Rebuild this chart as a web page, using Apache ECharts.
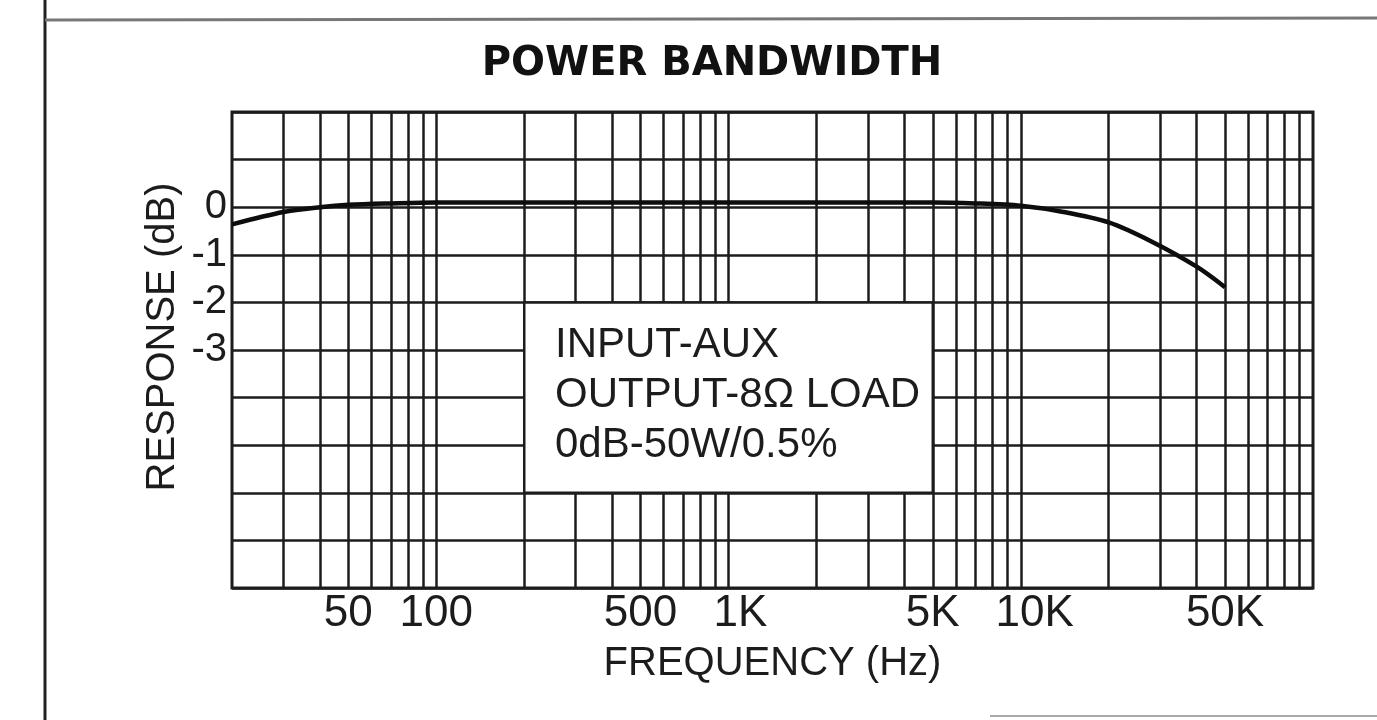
<!DOCTYPE html>
<html><head><meta charset="utf-8">
<script src="https://cdn.jsdelivr.net/npm/echarts@6/dist/echarts.min.js"></script>
<style>html,body{margin:0;padding:0;background:#fff}#c{width:1377px;height:720px}</style>
</head><body><div id="c"></div>
<script>
// ---- data ----
const freqs = [20, 30, 40, 50, 70, 100, 200, 500, 1000, 2000, 5000, 7000, 10000, 14000, 20000, 28000, 40000, 50000];
const response = [-0.36, -0.1, 0.0, 0.05, 0.08, 0.1, 0.1, 0.1, 0.1, 0.1, 0.1, 0.08, 0.03, -0.1, -0.32, -0.72, -1.25, -1.68];
const gridFreqs = [30, 40, 50, 60, 70, 80, 90, 100, 200, 300, 400, 500, 600, 700, 800, 900, 1000,
  2000, 3000, 4000, 5000, 6000, 7000, 8000, 9000, 10000, 20000, 30000, 40000, 50000, 60000, 70000, 80000, 90000];
const freqTickValues = [50, 100, 500, 1000, 5000, 10000, 50000];
const freqTickLabels = ['50', '100', '500', '1K', '5K', '10K', '50K'];
const dbTickValues = [0, -1, -2, -3];
const dbTickLabels = ['0', '-1', '-2', '-3'];
const noteBox = { freqFrom: 200, freqTo: 5000, dbTop: -2, dbBottom: -6 };
const noteLines = ['INPUT-AUX', 'OUTPUT-8Ω LOAD', '0dB-50W/0.5%'];
const titleText = 'POWER BANDWIDTH';
const xName = 'FREQUENCY (Hz)';
const yName = 'RESPONSE (dB)';

// ---- chart ----
const FONT = '"Liberation Sans", Arial, sans-serif';
const INK = '#1c1c1c';
const labelShift = { '1K': 12, '10K': 14 };
const chart = echarts.init(document.getElementById('c'), null, { renderer: 'canvas' });
chart.setOption({
  animation: false,
  backgroundColor: '#fff',
  grid: { left: 232, top: 112, width: 1081, height: 476, show: true, borderColor: INK, borderWidth: 3, backgroundColor: 'transparent' },
  xAxis: {
    type: 'log', min: 20, max: 100000, logBase: 10,
    axisLine: { show: false }, axisTick: { show: false }, axisLabel: { show: false }, splitLine: { show: false },
    name: xName, nameLocation: 'middle', nameGap: 56,
    nameTextStyle: { fontFamily: FONT, fontSize: 40, color: INK }
  },
  yAxis: {
    type: 'value', min: -8, max: 2, interval: 1,
    axisLine: { show: false }, axisTick: { show: false },
    axisLabel: {
      margin: 5, fontFamily: FONT, fontSize: 40, color: INK,
      formatter: v => { const i = dbTickValues.indexOf(v); return i >= 0 ? dbTickLabels[i] : ''; }
    },
    splitLine: { show: true, lineStyle: { color: INK, width: 2.5 } }
  },
  graphic: [
    { type: 'line', shape: { x1: 45, y1: 0, x2: 45, y2: 720 }, style: { stroke: '#222', lineWidth: 3 } },
    { type: 'line', shape: { x1: 45, y1: 20, x2: 1377, y2: 18 }, style: { stroke: '#777', lineWidth: 3 } },
    { type: 'line', shape: { x1: 990, y1: 716, x2: 1377, y2: 716 }, style: { stroke: '#aaa', lineWidth: 2 } },
    { type: 'text', x: 712, y: 65, style: { text: titleText, font: 'bold 40px "DejaVu Sans", sans-serif', fill: '#111', align: 'center', verticalAlign: 'middle' } },
    { type: 'text', x: 163, y: 337, rotation: Math.PI / 2, style: { text: yName, font: '40px ' + FONT, fill: INK, align: 'center', verticalAlign: 'middle' } },
    { type: 'text', x: 555, y: 320, z: 100, style: { text: noteLines.join('\n'), font: '42px ' + FONT, lineHeight: 50, fill: INK, align: 'left', verticalAlign: 'top' } }
  ],
  series: [
    {
      type: 'line', data: [], z: 1, silent: true,
      markLine: {
        silent: true, symbol: 'none', animation: false, z: 3,
        lineStyle: { color: INK, width: 2.5, type: 'solid' },
        label: { show: false },
        emphasis: { disabled: true },
        data: gridFreqs.map(f => {
          const i = freqTickValues.indexOf(f);
          const item = { xAxis: f };
          if (i >= 0) {
            item.label = {
              show: true, position: 'start', distance: 4,
              formatter: freqTickLabels[i],
              offset: [labelShift[freqTickLabels[i]] || 0, 0],
              fontFamily: FONT, fontSize: 44, color: INK
            };
          }
          return item;
        })
      }
    },
    {
      type: 'line', data: [], z: 5, silent: true,
      markArea: {
        silent: true, animation: false, z: 20,
        itemStyle: { color: '#fff', borderColor: INK, borderWidth: 2.5, opacity: 1 },
        emphasis: { disabled: true },
        data: [[{ xAxis: noteBox.freqFrom, yAxis: noteBox.dbTop }, { xAxis: noteBox.freqTo, yAxis: noteBox.dbBottom }]]
      }
    },
    {
      type: 'line', z: 10, smooth: 0.3, showSymbol: false, silent: true,
      lineStyle: { color: '#0d0d0d', width: 4.5 },
      data: freqs.map((f, i) => [f, response[i]])
    }
  ]
});
</script></body></html>
